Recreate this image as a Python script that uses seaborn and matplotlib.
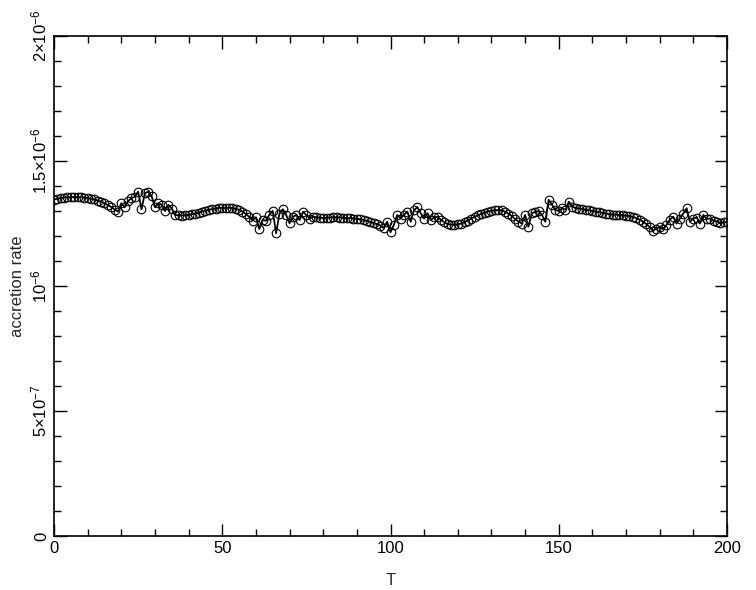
import numpy as np
import pandas as pd
import matplotlib
matplotlib.use("Agg")
import matplotlib.pyplot as plt
import seaborn as sns
from matplotlib.ticker import MultipleLocator, FixedLocator, FixedFormatter

# accretion rate, in units of 1e-6, one value per T step
rate_e6 = [
    1.345, 1.350, 1.352, 1.354, 1.355, 1.356, 1.356, 1.356, 1.355, 1.354,   # 0-9
    1.352, 1.349, 1.346, 1.342, 1.337, 1.331, 1.324, 1.316, 1.306, 1.298,   # 10-19
    1.331, 1.315, 1.340, 1.351, 1.357, 1.377, 1.307, 1.371, 1.377, 1.360,   # 20-29
    1.315, 1.331, 1.325, 1.300, 1.324, 1.310, 1.284, 1.283, 1.282, 1.283,   # 30-39
    1.284, 1.287, 1.290, 1.294, 1.298, 1.302, 1.305, 1.308, 1.310, 1.312,   # 40-49
    1.313, 1.313, 1.313, 1.312, 1.309, 1.305, 1.298, 1.288, 1.277, 1.262,   # 50-59
    1.275, 1.228, 1.264, 1.261, 1.285, 1.300, 1.211, 1.290, 1.307, 1.284,   # 60-69
    1.251, 1.277, 1.284, 1.264, 1.297, 1.283, 1.270, 1.277, 1.275, 1.273,   # 70-79
    1.272, 1.273, 1.274, 1.275, 1.275, 1.274, 1.273, 1.272, 1.272, 1.270,   # 80-89
    1.269, 1.267, 1.264, 1.260, 1.256, 1.252, 1.247, 1.242, 1.232, 1.257,   # 90-99
    1.215, 1.245, 1.284, 1.270, 1.285, 1.297, 1.257, 1.304, 1.315, 1.291,   # 100-109
    1.270, 1.291, 1.264, 1.275, 1.277, 1.264, 1.255, 1.248, 1.245, 1.245,   # 110-119
    1.247, 1.250, 1.256, 1.262, 1.270, 1.277, 1.283, 1.289, 1.294, 1.298,   # 120-129
    1.301, 1.303, 1.304, 1.303, 1.298, 1.290, 1.280, 1.268, 1.258, 1.250,   # 130-139
    1.284, 1.237, 1.291, 1.297, 1.300, 1.285, 1.257, 1.345, 1.325, 1.304,   # 140-149
    1.300, 1.311, 1.305, 1.337, 1.317, 1.312, 1.310, 1.307, 1.305, 1.303,   # 150-159
    1.300, 1.298, 1.295, 1.293, 1.290, 1.287, 1.286, 1.285, 1.284, 1.283,   # 160-169
    1.281, 1.279, 1.277, 1.272, 1.266, 1.258, 1.248, 1.236, 1.220, 1.230,   # 170-179
    1.237, 1.228, 1.244, 1.265, 1.277, 1.250, 1.270, 1.290, 1.311, 1.257,   # 180-189
    1.270, 1.274, 1.250, 1.284, 1.268, 1.270, 1.262, 1.258, 1.251, 1.255,   # 190-199
    1.257,                                                                   # 200
]
T = list(range(len(rate_e6)))

ytick_vals = [0, 5e-7, 1e-6, 1.5e-6, 2e-6]
ytick_labels = ["0", r"$5{\times}10^{-7}$", r"$10^{-6}$",
                r"$1.5{\times}10^{-6}$", r"$2{\times}10^{-6}$"]

df = pd.DataFrame({"T": T, "rate": np.array(rate_e6) * 1e-6})

sns.set_style("ticks")
plt.rcParams["font.family"] = ["Liberation Sans", "DejaVu Sans"]
plt.rcParams["mathtext.fontset"] = "custom"
plt.rcParams["mathtext.rm"] = "Liberation Sans"
plt.rcParams["mathtext.it"] = "Liberation Sans"

fig = plt.figure(figsize=(7.56, 5.90), dpi=100)
ax = fig.add_axes([54 / 756, 1 - 536 / 590, (727 - 54) / 756, (536 - 36) / 590])

sns.lineplot(data=df, x="T", y="rate", ax=ax, color="black", linewidth=1.3,
             marker="o", markersize=6.2, markerfacecolor="none",
             markeredgecolor="black", markeredgewidth=0.8)

ax.set_xlim(0, 200)
ax.set_ylim(0, 2e-6)
ax.xaxis.set_major_locator(MultipleLocator(50))
ax.xaxis.set_minor_locator(MultipleLocator(10))
ax.yaxis.set_major_locator(FixedLocator(ytick_vals))
ax.yaxis.set_major_formatter(FixedFormatter(ytick_labels))
ax.yaxis.set_minor_locator(MultipleLocator(1e-7))

ax.tick_params(which="both", direction="in", top=True, right=True,
               colors="black", labelsize=12, width=1)
ax.tick_params(which="major", length=9)
ax.tick_params(which="minor", length=5)
for lab in ax.get_yticklabels():
    lab.set_rotation(90)
    lab.set_va("center")
for s in ax.spines.values():
    s.set_linewidth(1.2)
    s.set_color("black")

ax.set_xlabel("T", fontsize=12, labelpad=12)
ax.set_ylabel("accretion rate", fontsize=12, labelpad=3)

fig.savefig("out.png", dpi=100)
